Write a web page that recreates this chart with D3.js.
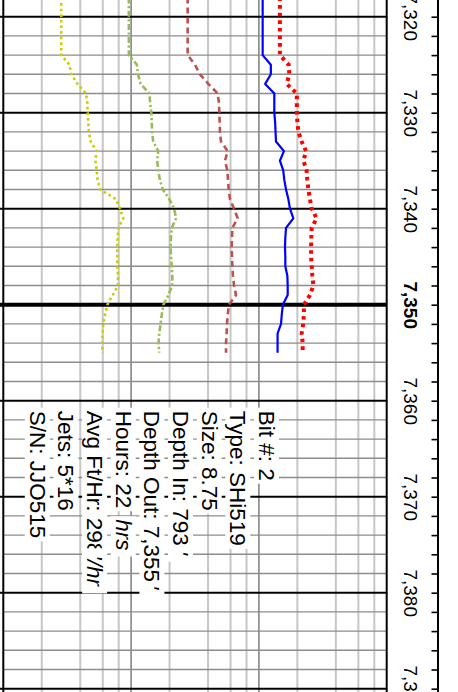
<!DOCTYPE html>
<html>
<head>
<meta charset="utf-8">
<script src="https://cdn.jsdelivr.net/npm/d3@7"></script>
<style>
  body { margin: 0; background: #fff; }
  svg { display: block; font-family: "Liberation Sans", Arial, sans-serif; }
</style>
</head>
<body>
<div id="chart"></div>
<script>
// depth in feet, one reading per foot
const depths = [7318, 7319, 7320, 7321, 7322, 7323, 7324, 7325, 7326, 7327,
  7328, 7329, 7330, 7331, 7332, 7333, 7334, 7335, 7336, 7337,
  7338, 7339, 7340, 7341, 7342, 7343, 7344, 7345, 7346, 7347,
  7348, 7349, 7350, 7351, 7352, 7353, 7354, 7355];

// gas readings (log scale)
const totalGas = [146, 146, 146, 146, 146, 146, 146, 171, 173, 165,
  198, 198, 198, 200, 204, 216, 234, 223, 236, 239,
  244, 251, 259, 283, 259, 257, 256, 256, 259, 262,
  267, 251, 225, 225, 222, 216, 220, 220];
const c1 = [107, 107, 107, 107, 107, 107, 107, 124, 124, 112,
  132, 132, 132, 134, 135, 136, 157, 146, 155, 158,
  163, 170, 175, 186, 163, 161, 160, 161, 161, 167,
  168, 168, 154, 151, 149, 140, 140, 140];
const c2 = [27.7, 27.7, 27.7, 27.7, 27.7, 27.7, 27.7, 31.6, 34.6, 40.2,
  47.6, 48.7, 49.0, 49.3, 49.6, 50.5, 57.0, 54.3, 56.6, 57.3,
  58.0, 59.4, 63.9, 68.2, 62.0, 61.6, 61.2, 61.6, 62.0, 62.7,
  63.9, 66.2, 58.3, 57.0, 56.3, 55.9, 55.3, 55.3];
const c3 = [9.6, 9.6, 9.6, 9.6, 9.6, 9.6, 9.6, 11.1, 11.3, 11.9,
  13.9, 14.1, 14.4, 14.5, 14.6, 14.9, 16.3, 16.0, 16.3, 16.8,
  17.7, 19.9, 21.7, 22.5, 20.8, 20.5, 20.4, 20.5, 20.8, 21.0,
  21.0, 19.6, 17.9, 17.4, 17.0, 16.6, 16.4, 16.6];
const c4 = [2.84, 2.84, 2.84, 2.84, 2.84, 2.84, 2.84, 3.29, 3.41, 3.80,
  4.44, 4.55, 4.57, 4.63, 4.66, 4.83, 5.38, 5.25, 5.38, 5.47,
  5.71, 7.62, 8.19, 8.70, 7.95, 7.85, 7.80, 7.80, 7.80, 7.90,
  7.90, 7.18, 6.52, 6.25, 6.06, 5.99, 5.96, 5.96];

// bit record
const infoLabels = ["Bit #: ", "Type: ", "Size: ", "Depth In: ", "Depth Out: ", "Hours: ", "Avg Ft/Hr: ", "Jets: ", "S/N: "];
const infoValues = ["2", "SHi519", "8.75", "793", "7,355", "22", "298", "5*16", "JJO515"];
const infoUnits = ["", "", "", "'", "'", "hrs", "'/hr", "", ""];

const gridValues = [1, 2, 4, 6, 8, 10, 20, 40, 60, 80, 100, 200, 400, 600, 800, 1000];

const width = 458, height = 692;

const svg = d3.select("#chart").append("svg")
    .attr("width", width)
    .attr("height", height);

const x = d3.scaleLog().domain([1, 1000]).range([3.3, 386.7]);
const y = d3.scaleLinear().domain([7320, 7390]).range([16.7, 688.7]);

const plotLeft = x.range()[0], plotRight = x.range()[1];

// vertical grid
svg.append("g").selectAll("line")
    .data(gridValues.filter(v => v !== 1 && v !== 1000))
    .enter().append("line")
    .attr("x1", d => x(d)).attr("x2", d => x(d))
    .attr("y1", 0).attr("y2", height)
    .attr("stroke", d => (d === 10 || d === 100) ? "#868686" : "#c6c6c6")
    .attr("stroke-width", d => (d === 10 || d === 100) ? 1.6 : 2);

// horizontal grid every 2 ft
const hLines = d3.range(7318, 7392, 2);
svg.append("g").selectAll("line")
    .data(hLines)
    .enter().append("line")
    .attr("x1", d => d % 10 === 0 ? 0 : plotLeft)
    .attr("x2", plotRight)
    .attr("y1", d => y(d)).attr("y2", d => y(d))
    .attr("stroke", d => d % 10 === 0 ? "#000" : "#8c8c8c")
    .attr("stroke-width", d => d % 50 === 0 ? 4 : (d % 10 === 0 ? 2 : 1.4));

// track borders
svg.append("g").selectAll("line")
    .data([1, 1000])
    .enter().append("line")
    .attr("x1", d => x(d)).attr("x2", d => x(d))
    .attr("y1", 0).attr("y2", height)
    .attr("stroke", "#000")
    .attr("stroke-width", 2);

// gas curves
const series = [
    {values: c4, color: "#cccc00", width: 2.6, dash: "2.6,3"},
    {values: c3, color: "#9bbb59", width: 2.6, dash: "6,2.5,2.2,2.5"},
    {values: c2, color: "#c0504d", width: 2.6, dash: "6,4"},
    {values: c1, color: "#0000ff", width: 2.2, dash: null},
    {values: totalGas, color: "#ff0000", width: 4, dash: "3.6,4"}
];

const line = d3.line()
    .x(d => x(d.v))
    .y(d => y(d.depth));

svg.append("g").selectAll("path")
    .data(series)
    .enter().append("path")
    .attr("d", s => line(s.values.map((v, i) => ({depth: depths[i], v: v}))))
    .attr("fill", "none")
    .attr("stroke", s => s.color)
    .attr("stroke-width", s => s.width)
    .attr("stroke-dasharray", s => s.dash)
    .attr("stroke-linejoin", "round");

// depth axis on the right
const axis = d3.axisLeft(y)
    .tickValues(d3.range(7320, 7392, 2))
    .tickSize(6.5)
    .tickSizeOuter(0)
    .tickFormat(d => d % 10 === 0 ? d3.format(",")(d) : "");

const axisG = svg.append("g")
    .attr("transform", "translate(438,0)")
    .call(axis);

axisG.select(".domain").remove();
axisG.selectAll(".tick line").attr("stroke", "#000").attr("stroke-width", 1.6);
axisG.selectAll(".tick text")
    .attr("x", 0).attr("y", 0).attr("dy", null)
    .attr("transform", "translate(-34,0) rotate(90)")
    .attr("text-anchor", "middle")
    .attr("fill", "#000")
    .attr("font-family", "Liberation Sans, Arial, sans-serif")
    .attr("font-size", 19)
    .attr("font-weight", d => d % 50 === 0 ? "bold" : "normal");

axisG.append("line")
    .attr("x1", 0).attr("x2", 0)
    .attr("y1", 0).attr("y2", height)
    .attr("stroke", "#000")
    .attr("stroke-width", 2);

// bit info box, rotated text with white backing
const infoFont = 22.5;
// gap between value and unit; negative lets the unit box eat into the value
const unitGaps = [0, 0, 0, 5, 3, 11, 0, 0, 0];
const infoStartY = 410.7;

infoLabels.forEach((label, i) => {
    const g = svg.append("g")
        .attr("transform", `translate(${259 - i * 28.65},${infoStartY}) rotate(90)`);

    const txt = g.append("text")
        .attr("font-size", infoFont)
        .attr("fill", "#000")
        .text(label + infoValues[i]);
    const bb = txt.node().getBBox();
    const textEnd = txt.node().getComputedTextLength();
    g.insert("rect", "text")
        .attr("x", bb.x - 3).attr("y", bb.y)
        .attr("width", bb.width + 6).attr("height", bb.height)
        .attr("fill", "#fff");

    if (infoUnits[i]) {
        const ug = g.append("g");
        const ut = ug.append("text")
            .attr("x", textEnd + unitGaps[i])
            .attr("font-size", infoFont)
            .attr("font-style", "italic")
            .attr("fill", "#000")
            .text(infoUnits[i]);
        const ub = ut.node().getBBox();
        const pad = i === 6 ? 7 : 3;
        ug.insert("rect", "text")
            .attr("x", ub.x - pad).attr("y", bb.y)
            .attr("width", ub.width + pad + 6).attr("height", bb.height)
            .attr("fill", "#fff");
    }
});
</script>
</body>
</html>
